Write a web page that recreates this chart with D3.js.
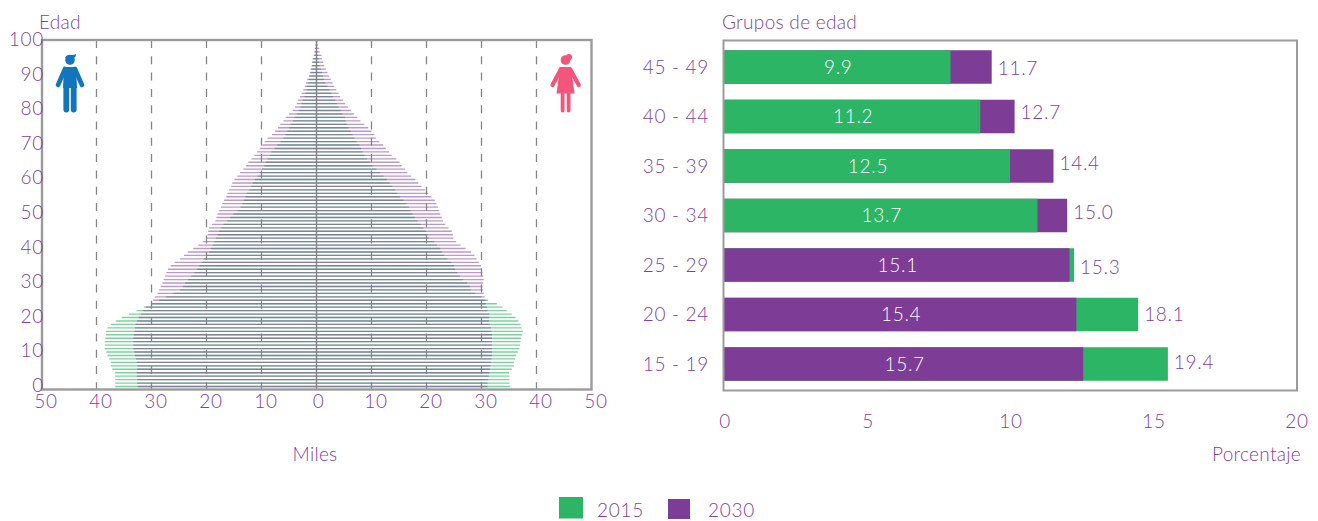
<!DOCTYPE html>
<html><head><meta charset="utf-8">
<script src="https://cdn.jsdelivr.net/npm/d3@7"></script>
<style>
html,body{margin:0;padding:0;background:#fff}
svg{display:block}
text{font-family:Lato,"Open Sans",sans-serif;font-weight:300;font-size:19px;fill:#7f3f9a;letter-spacing:.3px}
text.num{letter-spacing:.7px}
</style></head><body><svg id="c" width="1318" height="521"></svg>
<script>
const maleFirst=[36.6,36.6,36.6,36.6,36.6,37.1,37.4,37.4,37.7,38,38.2,38.5,38.5,38.5,38.4,38.3,38.3,38,37.4,36.5,35.4,34.1,32.7,31.4,30,28.6,27.4,26,24.8,24.3,23.9,23.4,22.8,22.2,21.7,21.3,20.9,20.5,20,19.5,19.2,18.9,18.6,18.3,18,17.7,17.3,16.9,16.2,15.7,15.1,14.3,13.8,13.5,13.2,12.9,12.7,12.2,11.9,11.6,11.2,10.7,10.3,9.9,9.5,9.2,8.9,8.5,8.2,7.6,7.1,6.5,6,5.6,5.3,5,4.7,4.3,4,3.6,3.2,2.9,2.7,2.5,2.2,2,1.8,1.7,1.5,1.4,1.3,1.1,.9,.8,.7,.6,.4,.3,.2,.1,.1];
const maleSecond=[32.5,32.6,32.6,32.7,32.7,32.6,32.6,32.7,32.8,33,33.1,33.3,33.3,33.3,33.3,33.2,33.1,33,32.9,32.6,32.3,31.9,31.5,31,30.1,29.7,29.4,28.9,28.6,28.3,28,27.8,27.5,27.3,27,26.5,25.8,24.8,24.1,23.4,22.4,21.5,20.7,20,19.8,19.7,19.5,19,18.4,18.2,18,17.7,17.4,17.1,16.8,16.4,16.2,15.9,15.5,15.3,14.9,14.4,13.9,13.3,12.8,12.4,11.8,11.3,10.8,10.3,9.8,9.4,8.9,8.1,7.5,7,6.6,6,5.6,5,4.3,3.9,3.6,3.4,3,2.7,2.4,2.1,1.9,1.7,1.4,1.2,1.1,.9,.8,.7,.5,.4,.3,.2,.1];
const femaleFirst=[35.2,35.1,35.1,35.1,35,35.5,35.9,35.9,36.1,36.3,36.6,36.9,37,37.1,37.2,37.4,37.5,37.3,37.1,36.7,36.2,35.5,34.6,33.8,32.8,31.2,30,28.8,28.1,27.9,27.4,26.6,26.1,25.6,25.2,25,24.5,23.8,23.2,22.8,22.5,21.9,21.4,20.5,20.2,19.9,19.4,19,18.4,17.9,17.5,17.1,16.8,16.3,15.8,15.2,14.7,14.3,13.8,13.3,12.8,12.2,11.6,10.9,10.2,9.7,9.2,8.7,8.4,8.1,7.8,7.3,6.9,6.6,6.2,5.8,5.5,5.3,5.2,4.7,4.4,4,3.7,3.4,3,2.7,2.4,2,1.6,1.4,1.2,1,.8,.6,.5,.4,.3,.2,.2,.1,.1];
const femaleSecond=[31.1,31.1,31.2,31.3,31.4,31.5,31.6,31.7,31.8,31.9,31.9,31.9,31.9,31.9,31.9,31.9,31.8,31.7,31.5,31.4,31.4,31.4,31.1,31,30.8,30.7,30.6,30.4,30.3,30.2,30.3,30.4,30.3,30.2,30.1,29.9,29.5,29.1,28.7,28.1,27.1,26.2,25.4,24.9,24.8,24.6,24,23.4,23,22.8,22.5,22.3,22.1,21.8,21.5,20.9,20.3,19.7,19.1,18.5,18,17.2,16.5,16.1,15.5,15.1,14.5,13.7,13.2,12.6,12.1,11.4,10.8,10.5,10,9.4,8.7,8,7.4,6.8,6.3,5.7,5.2,4.8,4.3,4,3.6,3.2,2.9,2.6,2.3,2,1.7,1.4,1.2,1,.9,.6,.5,.3,.2];
const ageTicks=[0,10,20,30,40,50,60,70,80,90,100];
const popTicks=[-50,-40,-30,-20,-10,0,10,20,30,40,50];
const groups=["45 - 49","40 - 44","35 - 39","30 - 34","25 - 29","20 - 24","15 - 19"];
const share2015=[9.9,11.2,12.5,13.7,15.3,18.1,19.4];
const share2030=[11.7,12.7,14.4,15.0,15.1,15.4,15.7];
const shareTicks=[0,5,10,15,20];
const years=["2015","2030"];
const GREEN="#2bb564",PURPLE="#7d3c96",FRAME="#9b9b9b";

const svg=d3.select("#c");
const T=(x,y,s,a,fill,cls)=>svg.append("text").attr("class",cls||null).attr("x",x).attr("y",y-.8).attr("text-anchor",a||"start").attr("dominant-baseline","central").style("fill",fill||null).text(s);

// ---------- pyramid ----------
const px=d3.scaleLinear([-50,50],[41.5,591.5]);
const py=d3.scaleLinear([0,100],[386.5,41.5]);
const rows=d3.range(101);
const bars=(sel,vals,sign,col,op)=>sel.append("g").selectAll("line").data(rows).join("line")
  .attr("x1",px(0)).attr("x2",a=>px(sign*vals[a])).attr("y1",a=>py(a)).attr("y2",a=>py(a))
  .attr("stroke",col).attr("stroke-width",1.35).attr("stroke-opacity",op);
const pg=svg.append("g");
bars(pg,maleFirst,-1,GREEN,.62);bars(pg,femaleFirst,1,GREEN,.62);
bars(pg,maleSecond,-1,PURPLE,.52);bars(pg,femaleSecond,1,PURPLE,.52);
svg.append("g").selectAll("line").data(popTicks.filter(d=>Math.abs(d)<50)).join("line")
  .attr("x1",d=>px(d)).attr("x2",d=>px(d)).attr("y1",40).attr("y2",389)
  .attr("stroke","#858585").attr("stroke-width",d=>d?1.3:1.5).attr("stroke-dasharray",d=>d?"8 8.3":null);
svg.append("rect").attr("x",42).attr("y",40).attr("width",549.5).attr("height",349.5)
  .attr("fill","none").attr("stroke",FRAME).attr("stroke-width",2.4);
const labY=d3.scaleLinear([0,100],[385,39.5]);
ageTicks.forEach(a=>T(44,labY(a),a,"end",null,"num"));
popTicks.forEach(d=>T(px(d)+(d?4.5:2),401,Math.abs(d),"middle",null,"num"));
T(39,22,"Edad");T(315,454,"Miles","middle");

// icons
const BLUE="#1375bd",PINK="#f4557a";
const man=svg.append("g").attr("fill",BLUE).attr("stroke",BLUE).attr("stroke-linecap","round");
man.append("circle").attr("cx",70).attr("cy",60).attr("r",4.8).attr("stroke","none");
man.append("path").attr("d","M65,58 Q67,54 71,55 Q75,55 76,54 Q76,58 73,58 Z").attr("stroke","none");
man.append("path").attr("d","M64,67 H76 L77,88 H63 Z").attr("stroke","none");
man.append("path").attr("fill","none").attr("stroke-width",4.6).attr("d","M65,69 L58,85 M75,69 L82,85");
man.append("path").attr("fill","none").attr("stroke-width",5.8).attr("d","M66.3,86 V109.5 M73.7,86 V109.5");
const wom=svg.append("g").attr("fill",PINK).attr("stroke",PINK).attr("stroke-linecap","round");
wom.append("circle").attr("cx",565.5).attr("cy",60).attr("r",4.8).attr("stroke","none");
wom.append("circle").attr("cx",569).attr("cy",57).attr("r",3.1).attr("stroke","none");
wom.append("path").attr("d","M560,67 H571 L574.5,93.5 H556.5 Z").attr("stroke","none");
wom.append("path").attr("fill","none").attr("stroke-width",4.2).attr("d","M561,69 L552.5,85 M570,69 L578.8,85");
wom.append("path").attr("fill","none").attr("stroke-width",3.8).attr("d","M562.6,92 V110.5 M568.6,92 V110.5");

// ---------- age-group bars ----------
const axisX=d3.scaleLinear([0,20],[725,1297]);
const barX=d3.scaleLinear([0,25],[724,1296]);
const barY=d3.scalePoint(groups,[67,364]);
const BH=33.5;
const order=groups.map((g,i)=>{
  const big=share2015[i]>=share2030[i]?{v:share2015[i],c:GREEN}:{v:share2030[i],c:PURPLE};
  const small=share2015[i]>=share2030[i]?{v:share2030[i],c:PURPLE}:{v:share2015[i],c:GREEN};
  return {g,big,small};
});
const bg=svg.append("g");
bg.selectAll(".o").data(order).join("rect").attr("class","o").attr("x",barX(0)).attr("y",d=>barY(d.g)-BH/2)
  .attr("width",d=>barX(d.big.v)-barX(0)).attr("height",BH).attr("fill",d=>d.big.c);
bg.selectAll(".i").data(order).join("rect").attr("class","i").attr("x",barX(0)).attr("y",d=>barY(d.g)-BH/2)
  .attr("width",d=>barX(d.small.v)-barX(0)).attr("height",BH).attr("fill",d=>d.small.c);
svg.append("rect").attr("x",723.5).attr("y",40.5).attr("width",573.5).attr("height",350)
  .attr("fill","none").attr("stroke",FRAME).attr("stroke-width",2);
const outerNudge=[1,-4,-3,-3,2,0,-2];
order.forEach((d,i)=>{
  T(709,barY(d.g),d.g,"end",null,"num");
  T((barX(0)+barX(d.small.v))/2+1,barY(d.g),d.small.v.toFixed(1),"middle","#fff","num");
  T(barX(d.big.v)+6,barY(d.g)+outerNudge[i],d.big.v.toFixed(1),null,null,"num");
});
shareTicks.forEach(t=>T(axisX(t),421,t,"middle",null,"num"));
T(722,22,"Grupos de edad");T(1301,454,"Porcentaje","end");

// ---------- legend ----------
svg.append("rect").attr("x",559).attr("y",497).attr("width",24).attr("height",21.5).attr("fill",GREEN);
svg.append("rect").attr("x",668).attr("y",499).attr("width",22).attr("height",20).attr("fill",PURPLE);
T(597,510.5,years[0],null,null,"num");T(708,510.5,years[1],null,null,"num");
</script></body></html>
